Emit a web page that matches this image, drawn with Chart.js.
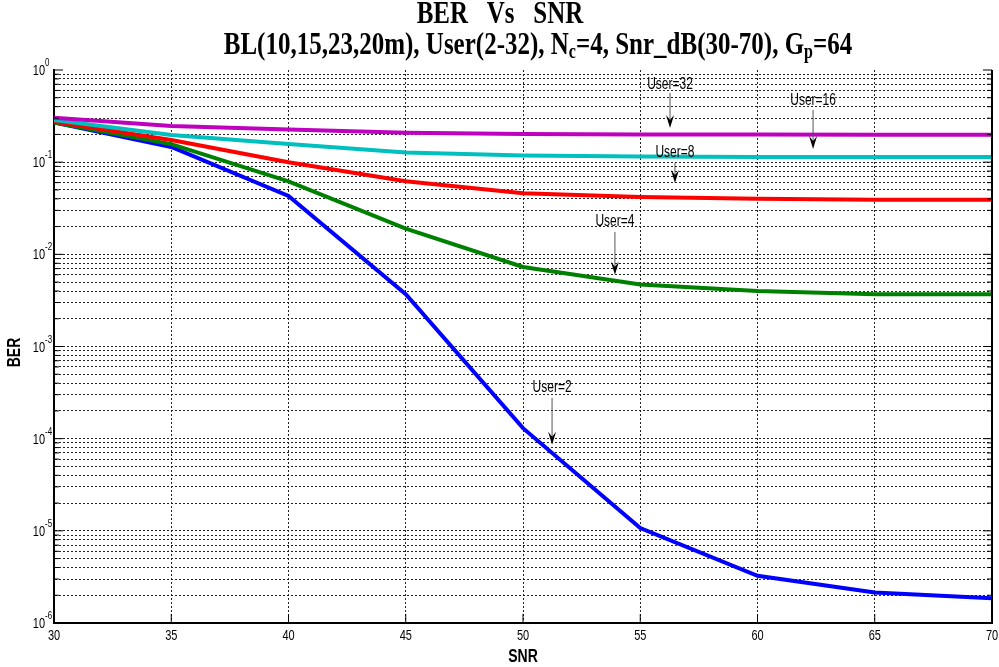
<!DOCTYPE html>
<html>
<head>
<meta charset="utf-8">
<script src="https://cdn.jsdelivr.net/npm/chart.js@4.4.0/dist/chart.umd.min.js"></script>
<style>
  body { margin:0; background:#fff; }
</style>
</head>
<body>
<canvas id="myChart" width="999" height="667"></canvas>
<script>
// values
const snr = [30, 35, 40, 45, 50, 55, 60, 65, 70];
const ber_user2  = [0.27, 0.146, 0.043, 0.0037, 1.3e-4, 1.07e-5, 3.25e-6, 2.14e-6, 1.86e-6];
const ber_user4  = [0.27, 0.157, 0.062, 0.019, 0.0073, 0.0047, 0.0040, 0.0037, 0.0037];
const ber_user8  = [0.275, 0.174, 0.10, 0.062, 0.046, 0.042, 0.040, 0.039, 0.039];
const ber_user16 = [0.287, 0.197, 0.157, 0.127, 0.118, 0.115, 0.114, 0.114, 0.114];
const ber_user32 = [0.304, 0.247, 0.226, 0.208, 0.202, 0.200, 0.199, 0.198, 0.198];

const x_ticks = [30, 35, 40, 45, 50, 55, 60, 65, 70];
const y_decades = [0, -1, -2, -3, -4, -5, -6];

const title_line1 = 'BER   Vs   SNR';
const title_line2 = [['BL(10,15,23,20m), User(2-32), N', 0], ['c', 1], ['=4, Snr_dB(30-70), G', 0], ['p', 1], ['=64', 0]];
const x_title = 'SNR';
const y_title = 'BER';

// arrow notes: text and arrow in data coordinates
const user_notes = [
  {text: 'User=32', x: 56.27, text_y: 0.70, from: 0.563, to: 0.235},
  {text: 'User=16', x: 62.37, text_y: 0.47, from: 0.368, to: 0.139},
  {text: 'User=8',  x: 56.48, text_y: 0.128, from: 0.098, to: 0.0595},
  {text: 'User=4',  x: 53.92, text_y: 0.023, from: 0.0175, to: 0.006},
  {text: 'User=2',  x: 51.24, text_y: 3.6e-4, from: 2.77e-4, to: 8.6e-5}
];

const SY = 1.3;  // text in the reference is drawn tall
const SANS = "'Liberation Sans', Arial, sans-serif";
const SERIF = "'Liberation Serif', 'Times New Roman', serif";

function tall_text(ctx, str, x, y, align){
  ctx.save();
  ctx.translate(x, y);
  ctx.scale(1, SY);
  ctx.textAlign = align;
  ctx.fillText(str, 0, 0);
  ctx.restore();
}

function make_points(vals){
  return snr.map(function(s, i){ return {x: s, y: vals[i]}; });
}

const textPlugin = {
  id: 'textPlugin',
  afterDraw: function(chart){
    const ctx = chart.ctx;
    const xs = chart.scales.x, ys = chart.scales.y;
    const area = chart.chartArea;
    ctx.save();
    ctx.fillStyle = '#000';
    ctx.strokeStyle = '#000';
    ctx.textBaseline = 'alphabetic';

    // right border
    ctx.lineWidth = 2;
    ctx.beginPath();
    ctx.moveTo(area.right, ys.getPixelForValue(1));
    ctx.lineTo(area.right, area.bottom);
    ctx.stroke();

    // inner tick marks
    ctx.lineWidth = 1;
    ctx.beginPath();
    x_ticks.forEach(function(v){
      const px = xs.getPixelForValue(v);
      ctx.moveTo(px, area.bottom); ctx.lineTo(px, area.bottom - 9);
    });
    ys.ticks.forEach(function(t){
      const py = ys.getPixelForValue(t.value);
      const major = Math.abs(Math.log10(t.value) - Math.round(Math.log10(t.value))) < 1e-6;
      const len = major ? 9 : 5;
      ctx.moveTo(area.left, py); ctx.lineTo(area.left + len, py);
      ctx.moveTo(area.right, py); ctx.lineTo(area.right - len, py);
    });
    ctx.stroke();

    // x tick labels
    ctx.font = '11px ' + SANS;
    x_ticks.forEach(function(v){
      tall_text(ctx, String(v), xs.getPixelForValue(v), area.bottom + 17, 'center');
    });

    // y tick labels 10^n
    y_decades.forEach(function(d){
      const py = ys.getPixelForValue(Math.pow(10, d));
      ctx.font = '11px ' + SANS;
      tall_text(ctx, '10', 45, py + 5, 'right');
      ctx.font = '8px ' + SANS;
      tall_text(ctx, String(d), 45, py - 4, 'left');
    });

    // axis titles
    ctx.font = 'bold 14px ' + SANS;
    tall_text(ctx, x_title, (area.left + area.right) / 2, 662, 'center');
    ctx.save();
    ctx.translate(20, (area.top + area.bottom) / 2 + 6);
    ctx.rotate(-Math.PI / 2);
    ctx.scale(1, SY);
    ctx.textAlign = 'center';
    ctx.fillText(y_title, 0, 0);
    ctx.restore();

    // title
    ctx.font = 'bold 25px ' + SERIF;
    tall_text(ctx, title_line1, 500, 23, 'center');
    let total = 0;
    title_line2.forEach(function(p){
      ctx.font = (p[1] ? 'bold 16px ' : 'bold 25px ') + SERIF;
      total += ctx.measureText(p[0]).width;
    });
    let px = 538 - total / 2;
    title_line2.forEach(function(p){
      ctx.font = (p[1] ? 'bold 16px ' : 'bold 25px ') + SERIF;
      tall_text(ctx, p[0], px, p[1] ? 58 : 54, 'left');
      px += ctx.measureText(p[0]).width;
    });

    // user notes with arrows
    user_notes.forEach(function(n){
      const ax = xs.getPixelForValue(n.x);
      const ty = ys.getPixelForValue(n.text_y);
      const fy = ys.getPixelForValue(n.from);
      const tip = ys.getPixelForValue(n.to);
      ctx.font = '12px ' + SANS;
      ctx.fillStyle = '#000';
      tall_text(ctx, n.text, ax, ty + 5, 'center');
      ctx.strokeStyle = '#555';
      ctx.lineWidth = 1;
      ctx.beginPath();
      ctx.moveTo(ax, fy); ctx.lineTo(ax, tip - 6);
      ctx.stroke();
      ctx.fillStyle = '#000';
      ctx.beginPath();
      ctx.moveTo(ax, tip);
      ctx.lineTo(ax - 4, tip - 13);
      ctx.lineTo(ax, tip - 8);
      ctx.lineTo(ax + 4, tip - 13);
      ctx.closePath();
      ctx.fill();
    });
    ctx.restore();
  }
};

function series(label, vals, colour, order){
  return {
    label: label,
    data: make_points(vals),
    borderColor: colour,
    backgroundColor: colour,
    borderWidth: 4,
    pointRadius: 0,
    tension: 0,
    fill: false,
    order: order
  };
}

const ctx = document.getElementById('myChart').getContext('2d');
const config = {
  type: 'line',
  data: {
    datasets: [
      series('User=32', ber_user32, 'rgb(191,0,191)', 1),
      series('User=16', ber_user16, 'rgb(0,191,191)', 2),
      series('User=8', ber_user8, 'rgb(255,0,0)', 3),
      series('User=4', ber_user4, 'rgb(0,128,0)', 4),
      series('User=2', ber_user2, 'rgb(0,0,255)', 5)
    ]
  },
  options: {
    responsive: false,
    animation: false,
    devicePixelRatio: 1,
    layout: { padding: { left: 54, right: 7, top: 70, bottom: 44 } },
    plugins: {
      legend: { display: false },
      tooltip: { enabled: false },
      title: { display: false }
    },
    scales: {
      x: {
        type: 'linear',
        min: 30, max: 70,
        afterBuildTicks: function(scale){
          scale.ticks = x_ticks.map(function(v){ return {value: v}; });
        },
        ticks: { display: false },
        grid: { color: '#222', lineWidth: 1, drawTicks: false },
        border: { display: true, color: '#000', width: 2, dash: [2, 2] }
      },
      y: {
        type: 'logarithmic',
        min: 1e-6, max: 1,
        afterBuildTicks: function(scale){
          let t = [];
          for(let e=-6; e<0; e++){
            for(let k=1; k<10; k++){
              t.push({value: k * Math.pow(10, e)});
            }
          }
          t.push({value: 1});
          scale.ticks = t;
        },
        ticks: { display: false },
        grid: {
          lineWidth: 1, drawTicks: false,
          color: function(c){ return (c.tick && c.tick.value === 1) ? 'rgba(0,0,0,0)' : '#222'; }
        },
        border: { display: true, color: '#000', width: 2, dash: [2, 2] }
      }
    }
  },
  plugins: [textPlugin]
};
const myChart = new Chart(ctx, config);
</script>
</body>
</html>
